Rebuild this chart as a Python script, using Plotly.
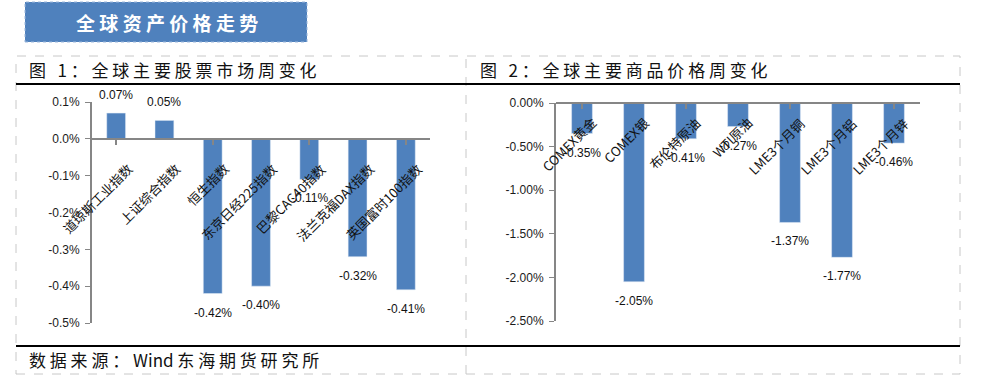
import plotly.graph_objects as go

# ---- data ----
stock_names = ["道琼斯工业指数", "上证综合指数", "恒生指数", "东京日经225指数",
               "巴黎CAC40指数", "法兰克福DAX指数", "英国富时100指数"]
stock_changes = [0.07, 0.05, -0.42, -0.40, -0.11, -0.32, -0.41]

commodity_names = ["COMEX黄金", "COMEX银", "布伦特原油", "WTI原油",
                   "LME3个月铜", "LME3个月铝", "LME3个月锌"]
commodity_changes = [-0.35, -2.05, -0.41, -0.27, -1.37, -1.77, -0.46]

left_ticks = [0.1, 0.0, -0.1, -0.2, -0.3, -0.4, -0.5]
left_tick_text = ["0.1%", "0.0%", "-0.1%", "-0.2%", "-0.3%", "-0.4%", "-0.5%"]
right_ticks = [0.0, -0.5, -1.0, -1.5, -2.0, -2.5]
right_tick_text = ["0.00%", "-0.50%", "-1.00%", "-1.50%", "-2.00%", "-2.50%"]

page_title = "全球资产价格走势"
fig1_title = "图 1：全球主要股票市场周变化"
fig2_title = "图 2：全球主要商品价格周变化"
source_text = "数据来源：Wind东海期货研究所"

W, H = 983, 385
BAR = "#4f81bd"
AXIS = "#868686"
CJK = "Noto Sans CJK SC"
NUM = "Liberation Sans, Arial"
NB = "\u00a0"


def px(xp):
    return xp / W


def py(yp):
    return (H - yp) / H


def spaced(s):
    # emulate the wide character pitch of the original (Latin words kept together)
    out = ""
    for i, ch in enumerate(s):
        out += ch
        if i + 1 < len(s):
            nxt = s[i + 1]
            if ch.isascii() and ch.isalpha() and nxt.isascii() and nxt.isalpha():
                continue
            out += NB
    return out


fig = go.Figure()

fig.add_trace(go.Bar(x=list(range(len(stock_names))), y=stock_changes,
                     marker_color=BAR, width=0.39, xaxis="x", yaxis="y",
                     hoverinfo="skip"))
fig.add_trace(go.Bar(x=list(range(len(commodity_names))), y=commodity_changes,
                     marker_color=BAR, width=0.40, xaxis="x2", yaxis="y2",
                     hoverinfo="skip"))

# domains
ld_x = [px(92), px(430)]
ld_y = [py(323), py(102)]
rd_x = [px(556), px(920)]
rd_y = [py(321), py(103)]
l_range = [-0.5, 0.1]
r_range = [-2.5, 0.0]
l_zero = ld_y[0] + (0 - l_range[0]) / (l_range[1] - l_range[0]) * (ld_y[1] - ld_y[0])
r_zero = rd_y[0] + (0 - r_range[0]) / (r_range[1] - r_range[0]) * (rd_y[1] - rd_y[0])

yax_common = dict(showgrid=False, zeroline=False, showline=True, linecolor=AXIS,
                  linewidth=2, ticks="outside", ticklen=5, tickcolor=AXIS,
                  tickwidth=1, fixedrange=True, automargin=False,
                  ticklabelstandoff=3,
                  tickfont=dict(family=NUM, size=12, color="#1a1a1a"))
xax_common = dict(showgrid=False, zeroline=False, showline=True, linecolor=AXIS,
                  linewidth=2, ticks="outside", ticklen=5, tickcolor=AXIS,
                  tickwidth=2, tickson="boundaries", showticklabels=False,
                  anchor="free", fixedrange=True, automargin=False)

fig.update_layout(
    width=W, height=H, autosize=False,
    margin=dict(l=0, r=0, t=0, b=0, pad=0, autoexpand=False),
    paper_bgcolor="white", plot_bgcolor="rgba(0,0,0,0)",
    showlegend=False,
    xaxis=dict(domain=ld_x, range=[-0.5, 6.5], position=l_zero, **xax_common),
    yaxis=dict(domain=ld_y, range=l_range, tickvals=left_ticks,
               ticktext=left_tick_text, anchor="x", **yax_common),
    xaxis2=dict(domain=rd_x, range=[-0.5, 6.5], position=r_zero, **xax_common),
    yaxis2=dict(domain=rd_y, range=r_range, tickvals=right_ticks,
                ticktext=right_tick_text, anchor="x2", **yax_common),
)

ann = []
# category labels
for i, name in enumerate(stock_names):
    ann.append(dict(x=i, y=0, xref="x", yref="y", text=name, showarrow=False,
                    textangle=-45, xanchor="right", yanchor="top",
                    xshift=23, yshift=-18,
                    font=dict(family=CJK, size=13, color="#111")))
for i, name in enumerate(commodity_names):
    ann.append(dict(x=i, y=0, xref="x2", yref="y2", text=name, showarrow=False,
                    textangle=-45, xanchor="right", yanchor="top",
                    xshift=21, yshift=-8,
                    font=dict(family=CJK, size=13, color="#111")))
# value labels
for i, v in enumerate(stock_changes):
    ann.append(dict(x=i, y=v, xref="x", yref="y", text=f"{v:.2f}%", showarrow=False,
                    xanchor="center", yanchor="middle",
                    yshift=18 if v >= 0 else -19,
                    font=dict(family=NUM, size=12, color="#111")))
for i, v in enumerate(commodity_changes):
    ann.append(dict(x=i, y=v, xref="x2", yref="y2", text=f"{v:.2f}%", showarrow=False,
                    xanchor="center", yanchor="middle", yshift=-19,
                    font=dict(family=NUM, size=12, color="#111")))

# title box text and headers
ann.append(dict(x=px(167), y=py(22), xref="paper", yref="paper",
                text="<b>" + spaced(page_title) + "</b>",
                showarrow=False, xanchor="center", yanchor="middle",
                font=dict(family=CJK, size=19, color="white")))
ann.append(dict(x=px(27), y=py(70), xref="paper", yref="paper",
                text=spaced(fig1_title), showarrow=False,
                xanchor="left", yanchor="middle",
                font=dict(family=CJK, size=17, color="#111")))
ann.append(dict(x=px(478), y=py(70), xref="paper", yref="paper",
                text=spaced(fig2_title), showarrow=False,
                xanchor="left", yanchor="middle",
                font=dict(family=CJK, size=17, color="#111")))
ann.append(dict(x=px(27), y=py(359), xref="paper", yref="paper",
                text=spaced(source_text), showarrow=False,
                xanchor="left", yanchor="middle",
                font=dict(family=CJK, size=17, color="#111")))
fig.update_layout(annotations=ann)

shapes = [
    # title box
    dict(type="rect", xref="paper", yref="paper", x0=px(25), x1=px(307),
         y0=py(42), y1=py(2), fillcolor="#4f81bd",
         line=dict(color="#9db8dc", width=1, dash="dot"), layer="below"),
    # outer table border
    dict(type="rect", xref="paper", yref="paper", x0=px(16), x1=px(960),
         y0=py(374), y1=py(56), line=dict(color="#c8c8c8", width=1, dash="dash"),
         layer="below"),
    # middle divider
    dict(type="line", xref="paper", yref="paper", x0=px(466), x1=px(466),
         y0=py(374), y1=py(56), line=dict(color="#c8c8c8", width=1, dash="dash"),
         layer="below"),
    # header and footer rules
    dict(type="line", xref="paper", yref="paper", x0=px(16), x1=px(960),
         y0=py(84), y1=py(84), line=dict(color="black", width=2)),
    dict(type="line", xref="paper", yref="paper", x0=px(16), x1=px(960),
         y0=py(346), y1=py(346), line=dict(color="black", width=2)),
]
fig.update_layout(shapes=shapes)

fig.write_html("out.html",
               config={"responsive": False, "displayModeBar": False,
                       "staticPlot": True},
               post_script="document.body.style.margin='0';"
                           "document.body.style.padding='0';"
                           "document.body.style.overflow='hidden';")
